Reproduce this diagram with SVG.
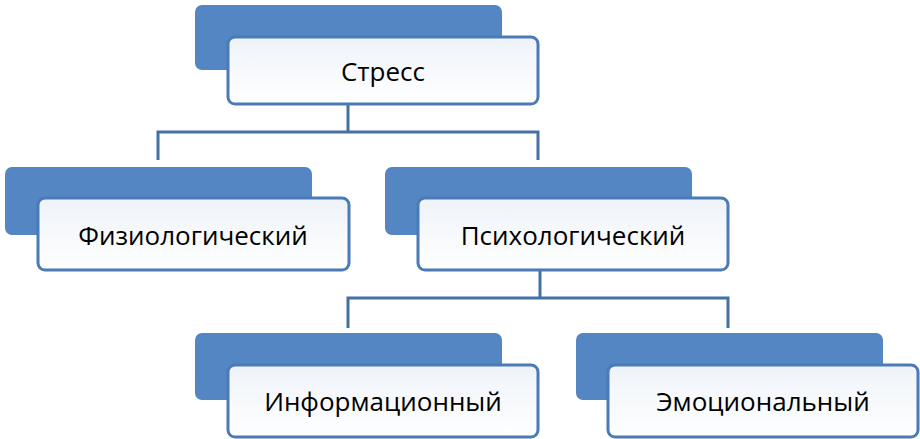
<svg xmlns="http://www.w3.org/2000/svg" width="920" height="439" viewBox="0 0 920 439">
<defs>
<linearGradient id="g" x1="0" y1="0" x2="0" y2="1"><stop offset="0" stop-color="#eef3f9"/><stop offset="0.5" stop-color="#f7f9fc"/><stop offset="1" stop-color="#ffffff"/></linearGradient>
</defs>
<style>
.back{fill:#5586c4;}
.front{fill:url(#g);stroke:#4a7bb6;stroke-width:3;}
.t{font-family:"Open Sans","Liberation Sans",sans-serif;font-size:26px;fill:#000;text-anchor:middle;}
.c{fill:none;stroke:#4470a3;stroke-width:3;}
</style>
<g id="connectors">
<path class="c" d="M348 104V132M158 160V132H538V160"/>
<path class="c" d="M540 270V298M348 328V298H728V328"/>
</g>
<g id="stress"><rect class="back" x="195" y="5" width="307" height="65" rx="7"/><rect class="front" x="228" y="37" width="310" height="67" rx="7"/><text class="t" x="383" y="81">Стресс</text></g>
<g id="phys"><rect class="back" x="5" y="167" width="307" height="68" rx="7"/><rect class="front" x="38" y="198" width="311" height="72" rx="7"/><text class="t" x="193" y="245">Физиологический</text></g>
<g id="psych"><rect class="back" x="385" y="167" width="307" height="68" rx="7"/><rect class="front" x="418" y="198" width="310" height="72" rx="7"/><text class="t" x="573" y="245">Психологический</text></g>
<g id="info"><rect class="back" x="195" y="333" width="307" height="67" rx="7"/><rect class="front" x="228" y="365" width="310" height="72" rx="7"/><text class="t" x="383" y="411">Информационный</text></g>
<g id="emo"><rect class="back" x="576" y="333" width="307" height="67" rx="7"/><rect class="front" x="608" y="365" width="310" height="72" rx="7"/><text class="t" x="763" y="411">Эмоциональный</text></g>
</svg>
